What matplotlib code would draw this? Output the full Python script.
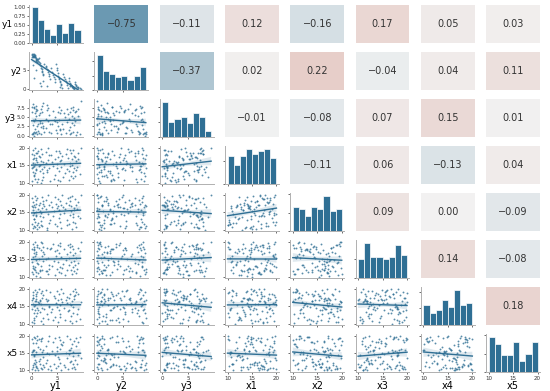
import numpy as np
import matplotlib
matplotlib.use("Agg")
import matplotlib.pyplot as plt
from matplotlib.colors import LinearSegmentedColormap
from matplotlib.ticker import MultipleLocator, NullFormatter
import seaborn as sns

names = ["y1", "y2", "y3", "x1", "x2", "x3", "x4", "x5"]

# values estimated from the reference scatter panels / histograms
y1 = [0.0, 0.1, 0.1, 0.2, 0.2, 0.3, 0.3, 0.4, 0.4, 0.5, 0.5, 0.6, 0.6, 0.7, 0.7, 0.8, 0.8, 0.9, 0.9, 1.0,
      1.0, 1.1, 0.2, 0.5, 0.9,
      1.25, 1.3, 1.4, 1.5, 1.6, 1.7, 1.8, 1.9, 2.0, 2.0, 2.1, 2.2, 2.2, 2.3, 1.6, 1.9,
      2.5, 2.7, 2.8, 3.0, 3.1, 3.2, 3.3, 3.4, 3.5, 2.9,
      3.7, 3.9, 4.1, 4.3, 4.5, 4.6,
      4.8, 4.9, 5.0, 5.1, 5.2, 5.3, 5.4, 5.5, 5.6, 5.7, 5.8, 5.5, 5.9,
      6.0, 6.2, 6.4, 6.6, 6.8, 6.9, 7.0,
      7.2, 7.3, 7.4, 7.5, 7.6, 7.7, 7.8, 7.9, 8.0, 8.0, 8.1, 8.2, 8.2, 7.5,
      8.4, 8.5, 8.6, 8.7, 8.8, 9.0, 9.1, 9.3, 9.5]
y2 = [9.5, 9.1, 8.7, 9.4, 8.5, 9.0, 8.8, 9.3, 8.6, 9.5, 8.9, 9.2, 8.55, 9.0, 8.7, 8.45, 7.9, 8.2, 7.5, 7.8,
      7.3, 8.1, 6.5, 3.0, 5.2,
      8.0, 7.6, 7.35, 8.3, 6.9, 6.4, 6.1, 5.7, 5.3, 4.9, 4.5, 4.1, 3.7, 2.0, 1.5, 0.6,
      6.8, 6.2, 5.9, 5.4, 5.0, 4.6, 3.9, 3.3, 2.7, 0.8,
      5.5, 4.4, 3.8, 3.2, 2.6, 1.8,
      6.6, 5.6, 5.1, 4.2, 3.4, 2.9, 2.5, 2.2, 1.7, 1.3, 1.0, 0.4, 0.1,
      4.0, 3.1, 2.5, 2.1, 1.4, 0.9, 0.2,
      2.8, 2.2, 1.6, 1.3, 1.1, 0.9, 0.7, 0.5, 0.4, 0.3, 0.2, 0.1, 0.0, 0.6,
      1.9, 1.3, 1.0, 0.7, 0.5, 0.3, 0.2, 0.1, 0.0]
y3 = [0.3, 6.4, 7.8, 0.8, 4.1, 0.5, 2.9, 0.0, 7.5, 1.0, 3.8, 0.6, 6.2, 1.9, 4.4, 8.0, 5.3, 0.9, 7.3, 2.6,
      6.8, 0.4, 8.5, 7.7, 6.6,
      1.1, 3.1, 5.6, 0.7, 6.1, 4.0, 7.2, 2.2, 6.5, 3.4, 7.9, 2.0, 2.7, 8.8, 3.3, 0.5,
      0.9, 4.6, 2.1, 6.9, 3.9, 7.4, 1.0, 5.5, 3.0, 8.3,
      0.6, 3.0, 6.7, 4.2, 4.0, 5.1,
      1.6, 0.8, 3.6, 6.4, 2.5, 7.6, 4.3, 6.0, 1.4, 7.0, 0.3, 1.7, 3.2,
      1.8, 6.2, 4.9, 0.7, 7.1, 3.7, 5.7,
      1.5, 4.5, 6.5, 2.3, 7.5, 0.6, 5.2, 3.5, 6.8, 1.0, 7.8, 4.8, 2.8, 0.4,
      6.3, 3.9, 0.2, 6.6, 0.9, 7.3, 5.4, 0.5, 9.4]
x1 = [14.2, 10.5, 18.1, 16.8, 13.1, 19.4, 15.6, 11.9, 14.7, 17.9,
      17.2, 12.8, 10.9, 15.3, 19.9, 14.0, 18.4, 13.5, 16.5, 10.2,
      18.6, 15.9, 14.4, 12.1, 17.0, 19.1, 11.1, 17.6, 14.9, 13.3,
      15.1, 19.6, 16.3, 10.7, 13.9, 18.2, 12.6, 16.0, 11.5, 17.4,
      10.0, 14.6, 18.7, 15.5, 13.6, 16.6, 20.0, 14.1, 17.8, 10.4,
      12.9, 18.0, 15.8, 14.8, 11.0, 16.9, 12.3, 19.2, 15.2, 14.3,
      17.3, 10.8, 19.0, 13.2, 18.5, 16.1, 14.5, 16.4, 10.3, 17.7,
      11.7, 15.4, 12.7, 18.3, 14.0, 19.7, 17.1, 10.6, 13.4, 15.7,
      14.9, 18.6, 12.0, 16.7, 15.05, 13.0, 11.2, 19.3, 17.55, 14.2,
      19.5, 17.4, 11.8, 16.2, 13.7, 14.6, 18.4, 16.9, 12.4, 19.8]
x2 = [16.9, 11.6, 19.2, 10.4, 15.7, 14.3, 18.0, 17.2, 13.0, 11.0,
      14.7, 16.4, 10.8, 19.7, 12.2, 17.4, 15.1, 18.5, 13.9, 11.4,
      19.0, 10.1, 16.6, 12.9, 14.1, 16.0, 11.9, 17.0, 10.6, 17.7,
      15.4, 14.9, 12.4, 16.3, 19.5, 11.1, 17.3, 18.2, 13.5, 14.0,
      11.3, 16.8, 18.6, 15.9, 10.3, 20.0, 14.5, 17.1, 12.0, 12.6,
      10.0, 17.9, 16.5, 13.8, 15.3, 11.7, 19.3, 17.3, 10.9, 16.1,
      18.9, 16.7, 13.2, 15.6, 14.4, 18.3, 10.5, 17.0, 12.3, 19.8,
      16.4, 14.8, 15.8, 17.6, 12.7, 11.2, 19.1, 11.5, 17.2, 14.2,
      18.1, 15.2, 16.9, 19.6, 10.2, 13.6, 14.6, 12.1, 15.5, 16.3,
      19.4, 18.7, 11.8, 17.1, 10.7, 15.9, 17.8, 14.0, 13.3, 19.9]
x3 = [11.4, 18.0, 14.2, 10.6, 19.3, 15.5, 13.1, 16.8, 17.7, 12.2,
      18.4, 11.8, 16.0, 19.8, 12.7, 10.2, 17.2, 14.7, 11.3, 18.6,
      13.9, 19.1, 12.4, 17.9, 16.4, 13.5, 11.0, 15.1, 18.2, 11.6,
      10.0, 12.9, 17.6, 12.0, 15.8, 19.6, 14.4, 18.5, 17.0, 11.9,
      20.0, 16.6, 11.5, 14.9, 18.1, 10.8, 15.3, 12.3, 13.3, 17.8,
      11.7, 18.3, 13.0, 19.4, 14.5, 17.3, 10.4, 15.9, 12.1, 17.6,
      19.0, 14.1, 11.4, 16.9, 18.7, 12.6, 15.6, 11.1, 19.7, 12.4,
      13.6, 17.9, 10.3, 14.8, 11.9, 16.5, 19.2, 15.2, 13.2, 18.4,
      17.1, 12.0, 14.3, 18.9, 10.7, 18.0, 12.8, 16.1, 11.6, 14.6,
      19.5, 16.7, 13.4, 10.9, 15.4, 12.2, 18.2, 14.0, 17.4, 19.9]
x4 = [16.8, 14.3, 10.5, 19.2, 17.3, 18.1, 15.6, 13.0, 14.9, 11.7,
      10.2, 16.5, 19.7, 14.0, 15.2, 17.0, 18.5, 12.3, 16.6, 12.9,
      14.6, 19.0, 17.4, 11.0, 17.8, 13.8, 16.3, 15.9, 20.0, 13.4,
      16.9, 10.7, 15.5, 14.4, 19.4, 17.2, 11.5, 18.3, 10.0, 16.4,
      18.7, 14.1, 17.1, 19.6, 12.6, 11.2, 16.7, 15.1, 14.8, 19.1,
      16.6, 13.2, 14.2, 10.9, 18.0, 17.4, 12.0, 15.8, 19.3, 14.7,
      10.3, 16.9, 18.4, 13.9, 15.4, 12.7, 17.1, 19.9, 11.8, 16.3,
      18.9, 14.5, 11.1, 16.8, 16.0, 17.7, 13.6, 14.0, 17.2, 10.6,
      18.6, 12.2, 15.3, 16.5, 10.1, 14.8, 19.5, 13.1, 17.9, 17.0,
      15.7, 19.8, 18.2, 10.8, 19.0, 12.8, 14.3, 18.6, 11.4, 16.2]
x5 = [10.3, 15.4, 19.1, 11.6, 10.9, 18.0, 16.0, 14.2, 19.7, 12.1,
      15.8, 10.0, 11.9, 19.4, 13.0, 11.1, 15.2, 17.8, 12.4, 20.0,
      10.6, 18.9, 15.6, 14.6, 11.4, 16.8, 10.2, 12.8, 19.2, 16.1,
      12.0, 18.4, 10.8, 15.3, 19.5, 10.4, 13.9, 11.7, 15.9, 13.4,
      19.0, 11.0, 17.1, 12.3, 15.1, 18.6, 10.5, 19.8, 14.8, 11.3,
      12.9, 10.1, 15.7, 18.2, 11.8, 19.3, 14.4, 10.7, 16.9, 15.5,
      11.2, 14.0, 19.6, 13.3, 16.2, 12.2, 17.7, 10.0, 18.8, 17.3,
      18.1, 11.5, 10.9, 15.05, 13.6, 19.9, 10.4, 14.7, 15.8, 12.4,
      19.1, 12.6, 16.5, 10.6, 17.6, 14.1, 11.9, 15.3, 11.0, 18.5,
      16.0, 10.3, 13.1, 19.4, 17.0, 12.0, 14.5, 18.3, 19.7, 13.5]

# correlation coefficients printed in the upper triangle (row i, columns i+1..)
corr_upper = [
    [-0.75, -0.11, 0.12, -0.16, 0.17, 0.05, 0.03],
    [-0.37, 0.02, 0.22, -0.04, 0.04, 0.11],
    [-0.01, -0.08, 0.07, 0.15, 0.01],
    [-0.11, 0.06, -0.13, 0.04],
    [0.09, 0.00, -0.09],
    [0.14, -0.08],
    [0.18],
]

data = [np.array(v, dtype=float) for v in [y1, y2, y3, x1, x2, x3, x4, x5]]
n = len(names)
blue = "#2f6f94"
cmap = LinearSegmentedColormap.from_list("corr", ["#3e7b9d", "#f2f2f2", "#c0503a"])

lims = []
for v in data:
    pad = 0.05 * (v.max() - v.min())
    lims.append((v.min() - pad, v.max() + pad))
ystep = [5, 5, 2.5, 5, 5, 5, 5, 5]

fig, axes = plt.subplots(n, n, figsize=(5.5, 3.91), dpi=100)
fig.subplots_adjust(left=0.053, right=0.982, top=0.987, bottom=0.048, wspace=0.213, hspace=0.23)

for i in range(n):
    for j in range(n):
        ax = axes[i, j]
        if j > i:
            r = corr_upper[i][j - i - 1]
            ax.set_facecolor(cmap((r + 1) / 2))
            ax.text(0.5, 0.5, f"{r:.2f}".replace("-", "\u2212"), transform=ax.transAxes,
                    ha="center", va="center", fontsize=7, color="#333333")
            ax.set_xticks([])
            ax.set_yticks([])
            for s in ax.spines.values():
                s.set_visible(False)
            continue

        if i == j:
            v = data[i]
            counts, edges = np.histogram(v, bins=8)
            if i == 0:
                w = np.ones(len(v)) / counts.max()
                ax.hist(v, bins=edges, weights=w, color=blue, edgecolor="white", linewidth=0.5)
                ax.set_ylim(0, 1.05)
                ax.yaxis.set_major_locator(MultipleLocator(0.25))
            else:
                ax.hist(v, bins=edges, color=blue, edgecolor="white", linewidth=0.5)
                ax.set_ylim(0, counts.max() * 1.08)
                ax.yaxis.set_major_formatter(NullFormatter())
                ax.tick_params(axis="y", length=0)
        else:
            sns.regplot(x=data[j], y=data[i], ax=ax, color=blue, seed=0,
                        scatter_kws=dict(s=1.8, linewidths=0),
                        line_kws=dict(lw=1))
            ax.set_ylim(lims[i])
            ax.yaxis.set_major_locator(MultipleLocator(ystep[i]))
            ax.set_xlabel("")
            ax.set_ylabel("")

        ax.set_xlim(lims[j])
        ax.xaxis.set_major_locator(MultipleLocator(5))
        for side in ["top", "right"]:
            ax.spines[side].set_visible(False)
        for side in ["left", "bottom"]:
            ax.spines[side].set_color("#b0b0b0")
            ax.spines[side].set_linewidth(0.7)
        ax.tick_params(labelsize=4, length=1.5, width=0.5, pad=1, colors="#333333")
        if j != 0:
            ax.yaxis.set_major_formatter(NullFormatter())
        else:
            ax.set_ylabel(names[i], rotation=0, fontsize=6.5, ha="right", va="center", labelpad=0.5)
        if i != n - 1:
            ax.xaxis.set_major_formatter(NullFormatter())
        else:
            ax.set_xlabel(names[j], fontsize=7, labelpad=0)

fig.savefig("out.png", dpi=100)
